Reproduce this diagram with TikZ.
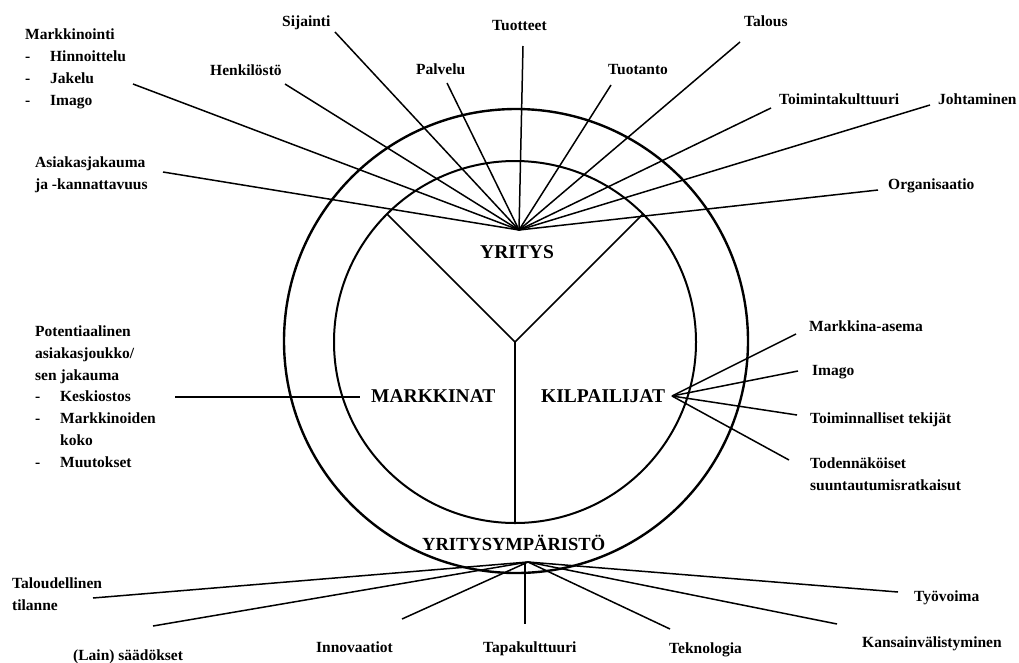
\documentclass[tikz,border=0pt]{standalone}
\usepackage{fontspec}
\setmainfont{Liberation Serif}
\usepackage{tikz}
\usetikzlibrary{calc}
\newcommand{\viiva}{\makebox[25pt][l]{-}}
\tikzset{teksti/.style={
    font=\fontsize{15.5}{21.7}\selectfont\bfseries,
    inner sep=0pt,
    anchor=base west,
    align=left}}
\tikzset{otsikko/.style={
    font=\fontsize{19.5}{24}\selectfont\bfseries,
    inner sep=0pt,
    anchor=base west}}
\tikzset{sade/.style={
    draw=black,
    line width=1.5pt}}

\begin{document}
\begin{tikzpicture}[x=1pt,y=-1pt]
\useasboundingbox (0,0) rectangle (1019,662);
\coordinate (O) at (516,341);
\coordinate (I) at (515,342);
\coordinate (Y) at (519,230);
\coordinate (K) at (672,396);
\coordinate (E) at (528,562);
\coordinate (M) at (175,397);

% renkaat ja jako
\path[draw=black, line width=2.4pt] (O) circle[radius=232pt];
\path[draw=black, line width=2pt] (I) circle[radius=181pt];
\path[draw=black, line width=1.5pt] ($(I)+(135:181pt)$) -- (I) -- ($(I)+(45:181pt)$);
\path[draw=black, line width=1.5pt] (I) -- ($(I)+(-90:181pt)$);

% otsikot
\node[otsikko] (yritys) at (480,258) {YRITYS};
\node[otsikko] (markkinat) at (371,402) {MARKKINAT};
\node[otsikko] (kilpailijat) at (541,402) {KILPAILIJAT};
\node[otsikko, font=\fontsize{18.5}{24}\selectfont\bfseries] (ymparisto) at (422,550) {YRITYSYMPÄRISTÖ};

% yritys (monirivisen solmun base = viimeinen rivi)
\node[teksti] (markkinointi) at (25,105) {Markkinointi\\\viiva Hinnoittelu\\\viiva Jakelu\\\viiva Imago};
\node[teksti] (asiakas) at (35,189) {Asiakasjakauma\\ja -kannattavuus};
\node[teksti] (sijainti) at (282,26) {Sijainti};
\node[teksti] (henkilosto) at (210,75) {Henkilöstö};
\node[teksti] (palvelu) at (416,74) {Palvelu};
\node[teksti] (tuotteet) at (492,30) {Tuotteet};
\node[teksti] (tuotanto) at (608,74) {Tuotanto};
\node[teksti] (talous) at (744,26) {Talous};
\node[teksti] (kulttuuri) at (779,104) {Toimintakulttuuri};
\node[teksti] (johtaminen) at (938,104) {Johtaminen};
\node[teksti] (organisaatio) at (888,189) {Organisaatio};

\coordinate (Y1) at (133,84);
\coordinate (Y2) at (163,172);
\coordinate (Y3) at (335,32);
\coordinate (Y4) at (285,84);
\coordinate (Y5) at (447,83);
\coordinate (Y6) at (523,46);
\coordinate (Y7) at (611,85);
\coordinate (Y8) at (740,42);
\coordinate (Y9) at (771,108);
\coordinate (Y10) at (930,105);
\coordinate (Y11) at (878,190);
\path[sade] (Y) -- (Y1);
\path[sade] (Y) -- (Y2);
\path[sade] (Y) -- (Y3);
\path[sade] (Y) -- (Y4);
\path[sade] (Y) -- (Y5);
\path[sade] (Y) -- (Y6);
\path[sade] (Y) -- (Y7);
\path[sade] (Y) -- (Y8);
\path[sade] (Y) -- (Y9);
\path[sade] (Y) -- (Y10);
\path[sade] (Y) -- (Y11);

% markkinat
\node[teksti] (potentiaalinen) at (35,467) {Potentiaalinen\\asiakasjoukko/\\sen jakauma\\\viiva Keskiostos\\\viiva Markkinoiden\\\hspace*{25pt}koko\\\viiva Muutokset};
\path[sade] (M) -- ([xshift=-11pt]markkinat.west |- M);

% kilpailijat
\node[teksti] (asema) at (809,331) {Markkina-asema};
\node[teksti] (imago) at (812,375) {Imago};
\node[teksti] (tekijat) at (810,423) {Toiminnalliset tekijät};
\node[teksti] (ratkaisut) at (810,490) {Todennäköiset\\suuntautumisratkaisut};

\coordinate (K1) at (796,334);
\coordinate (K2) at (798,371);
\coordinate (K3) at (797,415);
\coordinate (K4) at (789,460);
\path[sade] (K) -- (K1);
\path[sade] (K) -- (K2);
\path[sade] (K) -- (K3);
\path[sade] (K) -- (K4);

% yritysymparisto
\node[teksti] (tilanne) at (12,610) {Taloudellinen\\tilanne};
\node[teksti] (saadokset) at (73,660) {(Lain) säädökset};
\node[teksti] (innovaatiot) at (316,652) {Innovaatiot};
\node[teksti] (tapakulttuuri) at (483,652) {Tapakulttuuri};
\node[teksti] (teknologia) at (669,653) {Teknologia};
\node[teksti] (kansainv) at (862,647) {Kansainvälistyminen};
\node[teksti] (tyovoima) at (914,601) {Työvoima};

\coordinate (E1) at (93,598);
\coordinate (E2) at (153,626);
\coordinate (E3) at (402,619);
\coordinate (E4) at (525,624);
\coordinate (E5) at (670,629);
\coordinate (E6) at (837,624);
\coordinate (E7) at (898,592);
\path[sade] (E) -- (E1);
\path[sade] (E) -- (E2);
\path[sade] (E) -- (E3);
\path[sade] (E4 |- E) -- (E4);
\path[sade] (E) -- (E5);
\path[sade] (E) -- (E6);
\path[sade] (E) -- (E7);
\end{tikzpicture}
\end{document}
